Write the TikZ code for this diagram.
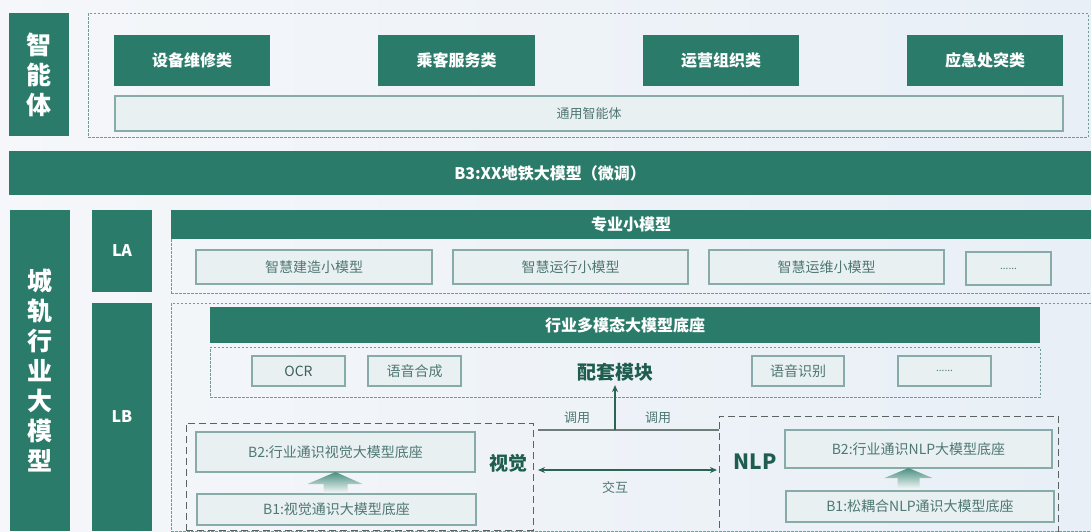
\documentclass[tikz,border=0pt]{standalone}
\usepackage{fontspec}
\setmainfont{Noto Sans CJK SC}
\usetikzlibrary{calc,arrows.meta}
\definecolor{mg}{HTML}{2B7B6A}
\definecolor{lfill}{HTML}{E8F0F2}
\definecolor{lborder}{HTML}{86ABA8}
\definecolor{ltext}{HTML}{4F7773}
\definecolor{dcol}{HTML}{6F9C98}
\definecolor{vcol}{HTML}{5A6361}
\definecolor{boldg}{HTML}{1F5D4F}
\definecolor{arrg}{HTML}{2A6454}
\definecolor{callc}{HTML}{6E7C7A}
\definecolor{bgl}{HTML}{F5F7FA}
\definecolor{bgr}{HTML}{E8EFF6}
\begin{document}
\begin{tikzpicture}[x=1pt,y=-1pt,
  every node/.style={inner sep=0pt, outer sep=0pt},
  sz/.style 2 args={minimum width=#1pt, minimum height=#2pt},
  gbox/.style={fill=mg, text=white, font=\bfseries\fontsize{16}{18}\selectfont},
  vtext/.style={fill=mg, text=white, align=center, font=\bfseries\fontsize{25}{30}\selectfont},
  lbox/.style={fill=lfill, draw=lborder, line width=1.1pt, text=ltext, font=\fontsize{14}{16}\selectfont},
  cont/.style={draw=dcol, dash pattern=on 2.5pt off 1.5pt, line width=0.8pt},
  vbox/.style={draw=vcol, dash pattern=on 7pt off 4pt, line width=1pt},
  blabel/.style={text=boldg, font=\bfseries\fontsize{19}{21}\selectfont},
  small/.style={text=ltext, font=\fontsize{13}{15}\selectfont},
  dots/.style={text=ltext, font=\fontsize{10}{12}\selectfont},
  fat/.style={top color=mg!85, bottom color=mg!5, draw=none}]
\useasboundingbox[left color=bgl, right color=bgr] (0,0) rectangle (1091,531);

% ---------- top: agents ----------
\node[vtext, sz={60}{123}] (agent) at (39,74.5) {智\\能\\体};
\node[cont, sz={1000}{124}] (topdash) at (588,75) {};
\node[gbox, sz={156}{51}] (c1) at (192,60.5) {设备维修类};
\node[gbox, sz={157}{51}] (c2) at (456.5,60.5) {乘客服务类};
\node[gbox, sz={156}{51}] (c3) at (721,60.5) {运营组织类};
\node[gbox, sz={156}{51}] (c4) at (985,60.5) {应急处突类};
\node[lbox, sz={948}{35}, small] (general) at (589,113.5) {通用智能体};

% ---------- B3 ----------
\node[gbox, sz={1082}{44}] (b3) at (550,173) {B3:XX地铁大模型（微调）};

% ---------- bottom ----------
\node[vtext, sz={60}{321}] (cgz) at (40,370.5) {城\\轨\\行\\业\\大\\模\\型};
\node[gbox, sz={60}{82}] (la) at (122,251) {LA};
\node[gbox, sz={60}{228}] (lb) at (122,417) {LB};

\node[cont, sz={920}{83}] (ladash) at (631,251.5) {};
\node[gbox, sz={920}{29}] (zyx) at (631,224.5) {专业小模型};
\node[lbox, sz={236}{34}] (s1) at (314,267) {智慧建造小模型};
\node[lbox, sz={235}{34}] (s2) at (570.5,267) {智慧运行小模型};
\node[lbox, sz={235}{34}] (s3) at (826.5,267) {智慧运维小模型};
\node[lbox, sz={85}{33}, dots] (s4) at (1008.5,268.5) {......};

\node[cont, sz={920}{228}] (lbdash) at (631,417) {};
\node[gbox, sz={830}{36}] (base) at (625,325) {行业多模态大模型底座};
\node[cont, sz={830}{50}] (ptdash) at (625,372) {};
\node[lbox, sz={93}{30}, text=ltext!80!black] (ocr) at (298.5,371) {OCR};
\node[lbox, sz={93}{30}] (yyhc) at (414.5,371) {语音合成};
\node[blabel] (ptlabel) at (615,372) {配套模块};
\node[lbox, sz={92}{30}] (yysb) at (798,371) {语音识别};
\node[lbox, sz={93}{30}, dots] (pdots) at (944.5,371) {......};

% vision group
\node[vbox, sz={347}{107}] (visdash) at (359.5,476.5) {};
\node[lbox, sz={279}{40}] (visB2) at (335.5,452) {B2:行业通识视觉大模型底座};
\node[lbox, sz={279}{31}] (visB1) at (336.5,509.5) {B1:视觉通识大模型底座};
\node[blabel] (vislabel) at (508,463) {视觉};

% NLP group
\node[vbox, sz={339}{119}] (nlpdash) at (888.5,475.5) {};
\node[lbox, sz={267}{38}] (nlpB2) at (918.5,449) {B2:行业通识NLP大模型底座};
\node[lbox, sz={268}{31}] (nlpB1) at (920,506.5) {B1:松耦合NLP通识大模型底座};
\node[blabel, font=\bfseries\fontsize{21}{23}\selectfont] (nlplabel) at (755,462) {NLP};

% fat gradient arrows
\begin{scope}[shift={(visB2.south)}]
  \shade[fat] (-28,12) -- (0,0) -- (27,12) -- (12,12) -- (12,21) -- (-12,21) -- (-12,12) -- cycle;
\end{scope}
\begin{scope}[shift={($(nlpB2.south)+(-10,0)$)}]
  \shade[fat] (-24,10) -- (0,0) -- (24,10) -- (11,10) -- (11,21) -- (-11,21) -- (-11,10) -- cycle;
\end{scope}

% connectors
\path (visdash.east) ++(5,-46.5) coordinate (callL);
\coordinate (callR) at (callL -| nlpdash.west);
\coordinate (callM) at (callL -| ptlabel.south);
\draw[callc, line width=1.2pt] (callL) -- (callR);
\draw[arrg, line width=1.2pt, -{Stealth[length=7pt,width=6pt]}] (callM) -- ([yshift=-4pt]ptlabel.south);
\node[small] (call1) at (577,418) {调用};
\node[small] (call2) at (658,418) {调用};

\path (visdash.east) ++(5,-6.5) coordinate (ixL);
\coordinate (ixR) at ([xshift=-2pt]ixL -| nlpdash.west);
\draw[arrg, line width=1.2pt, {Stealth[length=7pt,width=6pt]}-{Stealth[length=7pt,width=6pt]}] (ixL) -- (ixR);
\node[small] (ix) at (615,488) {交互};
\end{tikzpicture}
\end{document}
